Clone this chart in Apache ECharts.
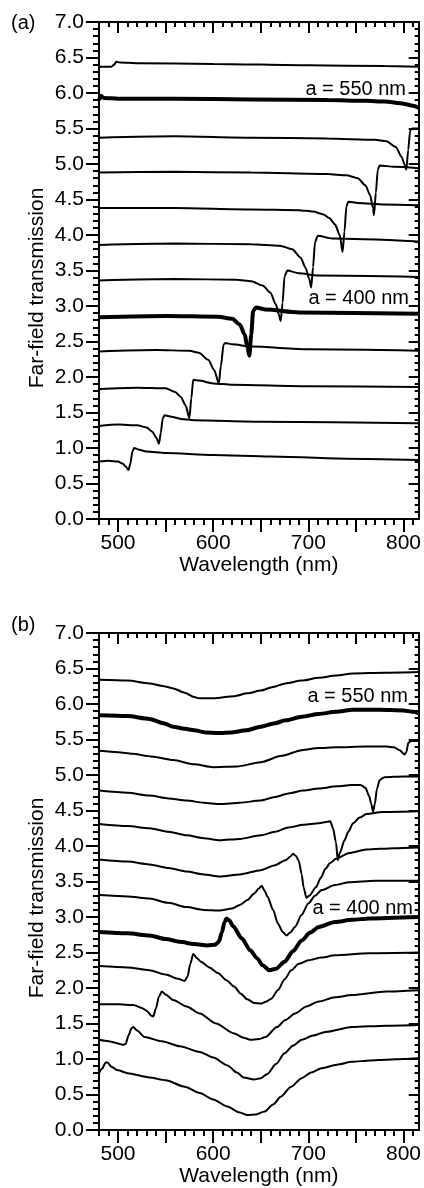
<!DOCTYPE html>
<html>
<head>
<meta charset="utf-8">
<script src="https://cdn.jsdelivr.net/npm/echarts@6/dist/echarts.min.js"></script>
<style>
  html, body { margin: 0; padding: 0; background: #fff; }
  #chart { width: 424px; height: 1188px; }
</style>
</head>
<body>
<div id="chart"></div>
<script>
// Lattice constants (nm) of the stacked spectra, bottom to top; each trace is offset by 0.5
const lattice = [300, 325, 350, 375, 400, 425, 450, 475, 500, 525, 550, 575];
const labelledLattice = [400, 550];

// Axis ticks and labels
const wavelengthLabels = [500, 600, 700, 800];
const wavelengthMajorTicks = [500, 550, 600, 650, 700, 750, 800];
const wavelengthMinorTicks = [480, 490, 500, 510, 520, 530, 540, 550, 560, 570, 580, 590, 600, 610, 620, 630,
  640, 650, 660, 670, 680, 690, 700, 710, 720, 730, 740, 750, 760, 770, 780, 790, 800, 810];

// (a) far-field transmission spectra: [wavelength nm, transmission + offset]
const A300 = [[480,0.81],[490,0.82],[500,0.81],[505,0.78],[508,0.74],[511,0.69],[513,0.78],[515,0.95],[517,1.00],[521,0.98],[530,0.95],[550,0.93],[600,0.90],[660,0.88],[740,0.85],[816,0.83]];
const A325 = [[480,1.31],[500,1.33],[520,1.32],[530,1.29],[536,1.23],[540,1.15],[543,1.06],[545,1.22],[547,1.42],[549,1.46],[556,1.44],[566,1.41],[580,1.39],[650,1.37],[816,1.35]];
const A350 = [[480,1.83],[520,1.85],[550,1.84],[560,1.79],[566,1.72],[571,1.60],[575,1.42],[577,1.70],[579,1.96],[585,1.95],[600,1.91],[620,1.89],[700,1.87],[816,1.86]];
const A375 = [[480,2.36],[540,2.38],[575,2.37],[585,2.34],[595,2.24],[601,2.10],[606,1.91],[608,2.15],[611,2.46],[613,2.48],[620,2.46],[640,2.43],[700,2.39],[816,2.37]];
const A400 = [[480,2.84],[550,2.86],[605,2.85],[620,2.82],[628,2.74],[633,2.60],[636,2.42],[638,2.30],[640,2.60],[642,2.93],[645,2.98],[655,2.95],[690,2.91],[816,2.89]];
const A425 = [[480,3.36],[560,3.38],[625,3.37],[640,3.35],[652,3.29],[660,3.19],[666,3.02],[669,2.88],[671,2.79],[673,3.05],[675,3.42],[678,3.50],[690,3.46],[710,3.43],[816,3.41]];
const A450 = [[480,3.86],[560,3.88],[640,3.87],[670,3.85],[683,3.80],[692,3.68],[697,3.54],[701,3.38],[703,3.26],[705,3.55],[707,3.90],[710,3.99],[725,3.95],[816,3.91]];
const A475 = [[480,4.38],[560,4.38],[640,4.36],[690,4.35],[705,4.33],[716,4.29],[722,4.24],[728,4.15],[733,4.00],[736,3.76],[738,4.05],[740,4.40],[742,4.47],[752,4.45],[780,4.43],[816,4.42]];
const A500 = [[480,4.88],[560,4.89],[640,4.88],[720,4.86],[740,4.84],[752,4.80],[760,4.70],[765,4.56],[768,4.38],[769,4.28],[771,4.60],[773,4.92],[775,4.98],[790,4.96],[816,4.94]];
const A525 = [[480,5.37],[560,5.39],[640,5.37],[720,5.36],[770,5.34],[782,5.32],[792,5.24],[798,5.10],[801,5.00],[803,4.92],[805,5.20],[807,5.47],[809,5.50],[816,5.50]];
const A550 = [[480,5.90],[482,5.96],[485,5.93],[500,5.92],[560,5.92],[640,5.91],[720,5.90],[760,5.89],[780,5.88],[800,5.85],[810,5.82],[816,5.79]];
const A575 = [[480,6.37],[493,6.37],[496,6.40],[498,6.44],[502,6.43],[520,6.42],[600,6.41],[700,6.39],[780,6.38],[816,6.37]];

// (b) far-field transmission spectra: [wavelength nm, transmission + offset]
const B300 = [[480,0.80],[483,0.86],[487,0.95],[489,0.95],[493,0.89],[500,0.84],[510,0.80],[533,0.74],[550,0.70],[570,0.61],[586,0.52],[600,0.43],[615,0.33],[627,0.25],[636,0.21],[645,0.22],[654,0.26],[663,0.36],[671,0.47],[682,0.61],[693,0.73],[703,0.81],[714,0.87],[730,0.92],[746,0.96],[765,0.98],[782,0.99],[800,1.00],[816,1.01]];
const B325 = [[480,1.27],[490,1.25],[500,1.22],[505,1.20],[508,1.21],[511,1.33],[514,1.43],[516,1.45],[520,1.40],[528,1.31],[546,1.25],[565,1.18],[586,1.10],[600,1.02],[615,0.91],[625,0.81],[632,0.74],[643,0.71],[650,0.73],[657,0.79],[666,0.93],[675,1.08],[684,1.19],[693,1.27],[705,1.33],[718,1.38],[746,1.45],[782,1.47],[816,1.48]];
const B350 = [[480,1.77],[500,1.77],[516,1.76],[525,1.72],[530,1.68],[535,1.61],[537,1.60],[540,1.72],[543,1.88],[546,1.95],[550,1.91],[558,1.83],[572,1.74],[586,1.64],[603,1.50],[622,1.36],[632,1.30],[639,1.27],[648,1.28],[655,1.31],[667,1.45],[676,1.55],[686,1.64],[698,1.74],[711,1.81],[728,1.87],[746,1.90],[782,1.95],[816,1.97]];
const B375 = [[480,2.31],[510,2.29],[533,2.25],[550,2.19],[563,2.13],[570,2.10],[573,2.16],[576,2.34],[579,2.48],[583,2.42],[587,2.37],[596,2.29],[605,2.21],[614,2.11],[622,2.02],[629,1.92],[636,1.84],[643,1.79],[650,1.78],[656,1.81],[661,1.85],[668,1.97],[675,2.12],[682,2.25],[690,2.34],[700,2.39],[714,2.43],[728,2.46],[764,2.49],[816,2.50]];
const B400 = [[480,2.79],[510,2.77],[533,2.74],[550,2.69],[565,2.65],[580,2.62],[594,2.60],[602,2.61],[606,2.65],[609,2.78],[612,2.93],[614,2.98],[617,2.95],[621,2.87],[630,2.70],[639,2.53],[646,2.42],[652,2.32],[659,2.25],[666,2.27],[675,2.37],[684,2.52],[693,2.67],[702,2.78],[711,2.86],[728,2.93],[746,2.96],[764,2.98],[816,3.00]];
const B425 = [[480,3.31],[510,3.29],[533,3.26],[553,3.20],[572,3.14],[590,3.10],[607,3.09],[620,3.12],[628,3.17],[636,3.24],[643,3.33],[648,3.40],[651,3.44],[654,3.37],[657,3.29],[663,3.10],[668,2.91],[673,2.79],[677,2.74],[681,2.78],[686,2.86],[693,3.03],[700,3.19],[707,3.30],[714,3.38],[728,3.45],[743,3.49],[770,3.51],[816,3.51]];
const B450 = [[480,3.81],[510,3.78],[533,3.74],[553,3.69],[572,3.64],[590,3.60],[607,3.57],[628,3.60],[650,3.66],[665,3.73],[676,3.80],[681,3.85],[684,3.89],[687,3.86],[690,3.79],[693,3.60],[695,3.42],[698,3.27],[701,3.30],[708,3.42],[713,3.55],[718,3.68],[723,3.76],[729,3.82],[743,3.90],[761,3.95],[790,3.97],[816,3.98]];
const B475 = [[480,4.31],[510,4.28],[533,4.25],[553,4.20],[572,4.15],[590,4.11],[607,4.08],[628,4.10],[650,4.15],[665,4.20],[679,4.26],[695,4.30],[711,4.32],[720,4.34],[723,4.35],[726,4.25],[729,4.05],[731,3.80],[733,3.90],[738,4.08],[742,4.20],[747,4.32],[754,4.40],[761,4.45],[778,4.48],[816,4.49]];
const B500 = [[480,4.78],[510,4.75],[533,4.71],[553,4.67],[572,4.64],[590,4.61],[607,4.59],[628,4.61],[650,4.64],[665,4.69],[679,4.74],[695,4.78],[711,4.81],[730,4.84],[745,4.86],[755,4.86],[760,4.82],[764,4.70],[766,4.60],[768,4.48],[770,4.60],[772,4.80],[775,4.93],[780,4.97],[800,4.98],[816,4.98]];
const B525 = [[480,5.34],[500,5.32],[515,5.30],[535,5.26],[558,5.21],[580,5.15],[600,5.11],[625,5.12],[650,5.18],[672,5.27],[693,5.35],[711,5.38],[729,5.39],[760,5.40],[782,5.40],[790,5.39],[796,5.35],[801,5.29],[803,5.32],[805,5.45],[808,5.48],[816,5.48]];
const B550 = [[480,5.84],[510,5.83],[533,5.79],[548,5.73],[558,5.68],[570,5.65],[580,5.63],[592,5.60],[605,5.59],[620,5.60],[635,5.63],[650,5.68],[665,5.73],[676,5.77],[693,5.82],[711,5.86],[729,5.89],[747,5.92],[775,5.92],[800,5.91],[810,5.89],[816,5.87]];
const B575 = [[480,6.34],[510,6.33],[533,6.29],[548,6.25],[558,6.22],[570,6.16],[580,6.10],[585,6.08],[600,6.08],[622,6.11],[636,6.15],[650,6.19],[663,6.24],[676,6.29],[693,6.33],[711,6.37],[729,6.40],[747,6.43],[780,6.44],[816,6.45]];

const spectraA = [A300, A325, A350, A375, A400, A425, A450, A475, A500, A525, A550, A575];
const spectraB = [B300, B325, B350, B375, B400, B425, B450, B475, B500, B525, B550, B575];

const FONT = '"Liberation Sans", Arial, Helvetica, sans-serif';
const INK = '#000';
const WL_MIN = 480, WL_MAX = 816;
const AXIS_FONT = 21;

const grids = [
  { left: 99, right: 4, top: 22, height: 497 },
  { left: 99, right: 4, top: 633, height: 497 }
];

function xAxesFor(gi) {
  const base = { gridIndex: gi, type: 'value', min: WL_MIN, max: WL_MAX, splitLine: { show: false } };
  return [
    Object.assign({}, base, {
      position: 'bottom',
      axisLine: { show: true, lineStyle: { color: INK, width: 2 } },
      axisTick: { show: true, customValues: wavelengthMajorTicks, length: 13, lineStyle: { color: INK, width: 2 } },
      axisLabel: { show: true, customValues: wavelengthLabels, margin: 14, color: INK, fontSize: AXIS_FONT, fontFamily: FONT },
      name: 'Wavelength (nm)', nameLocation: 'middle', nameGap: 36,
      nameTextStyle: { color: INK, fontSize: AXIS_FONT, fontFamily: FONT }
    }),
    Object.assign({}, base, {
      position: 'bottom',
      axisLine: { show: false },
      axisTick: { show: true, customValues: wavelengthMinorTicks, length: 6, lineStyle: { color: INK, width: 2 } },
      axisLabel: { show: false }
    }),
    Object.assign({}, base, {
      position: 'top',
      axisLine: { show: true, lineStyle: { color: INK, width: 2 } },
      axisTick: { show: true, inside: true, customValues: wavelengthMajorTicks, length: 11, lineStyle: { color: INK, width: 2 } },
      axisLabel: { show: false }
    }),
    Object.assign({}, base, {
      position: 'top',
      axisLine: { show: false },
      axisTick: { show: true, inside: true, customValues: wavelengthMinorTicks, length: 5, lineStyle: { color: INK, width: 2 } },
      axisLabel: { show: false }
    })
  ];
}

function yAxesFor(gi) {
  const base = { gridIndex: gi, type: 'value', min: 0, max: 7, interval: 0.5, splitLine: { show: false } };
  return [
    Object.assign({}, base, {
      position: 'left',
      axisLine: { show: true, lineStyle: { color: INK, width: 2 } },
      axisTick: { show: true, length: 13, lineStyle: { color: INK, width: 2 } },
      minorTick: { show: true, splitNumber: 5, length: 6, lineStyle: { color: INK, width: 2 } },
      axisLabel: { show: true, margin: 15, color: INK, fontSize: AXIS_FONT, fontFamily: FONT, formatter: v => v.toFixed(1) }
    }),
    Object.assign({}, base, {
      position: 'right',
      axisLine: { show: true, lineStyle: { color: INK, width: 2 } },
      axisTick: { show: true, inside: true, length: 10, lineStyle: { color: INK, width: 2 } },
      minorTick: { show: true, splitNumber: 5, length: 4, lineStyle: { color: INK, width: 2 } },
      axisLabel: { show: false }
    })
  ];
}

function seriesFor(spectra, gi) {
  return spectra.map((data, i) => ({
    type: 'line',
    name: 'a = ' + lattice[i] + ' nm',
    xAxisIndex: gi * 4,
    yAxisIndex: gi * 2,
    data: data,
    showSymbol: false,
    smooth: 0.25,
    smoothMonotone: 'x',
    lineStyle: { color: INK, width: labelledLattice.includes(lattice[i]) ? 4 : 2 },
    z: 3
  }));
}

function textEl(text, x, y, align, size, rotation) {
  return {
    type: 'text', x: x, y: y, z: 10, rotation: rotation || 0,
    style: { text: text, fill: INK, font: size + 'px ' + FONT, align: align, verticalAlign: 'middle',
             textAlign: align, textVerticalAlign: 'middle' }
  };
}

const chart = echarts.init(document.getElementById('chart'), null, { renderer: 'canvas' });
chart.setOption({
  animation: false,
  backgroundColor: '#fff',
  grid: grids,
  xAxis: xAxesFor(0).concat(xAxesFor(1)),
  yAxis: yAxesFor(0).concat(yAxesFor(1)),
  series: seriesFor(spectraA, 0).concat(seriesFor(spectraB, 1)),
  graphic: [
    textEl('(a)', 11, 23, 'left', 20),
    textEl('(b)', 11, 625, 'left', 20),
    textEl('Far-field transmission', 37, 288, 'center', AXIS_FONT, Math.PI / 2),
    textEl('Far-field transmission', 37, 898, 'center', AXIS_FONT, Math.PI / 2),
    textEl('a = 550 nm', 406, 89, 'right', 20),
    textEl('a = 400 nm', 409, 298, 'right', 20),
    textEl('a = 550 nm', 408, 696, 'right', 20),
    textEl('a = 400 nm', 413, 908, 'right', 20)
  ]
});
</script>
</body>
</html>
